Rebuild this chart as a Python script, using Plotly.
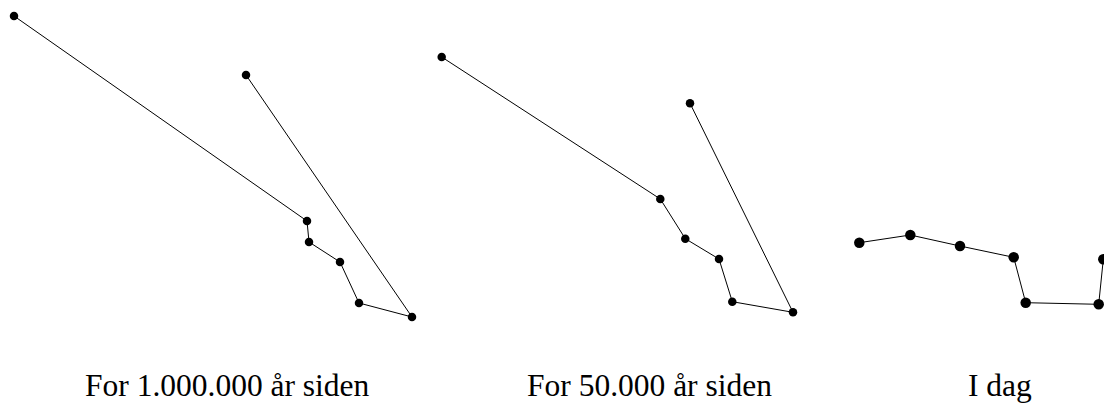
import plotly.graph_objects as go

# Star positions (chart units, y downward) for each epoch
x_1m = [14, 307, 309, 340, 359, 412, 246]
y_1m = [16, 221, 242, 262, 303, 317, 75]

x_50k = [441.7, 660.3, 685.3, 719, 732.3, 793, 690]
y_50k = [57, 199, 238.7, 259, 301.7, 312.3, 103.3]

x_now = [859.3, 910.3, 960, 1013.7, 1025.7, 1098.7, 1103.3]
y_now = [242.7, 235, 246, 257.3, 302.7, 304.3, 259.3]

labels = ["For 1.000.000 år siden", "For 50.000 år siden", "I dag"]
label_x = [227, 649, 1000]
label_y = [385, 385, 385]

fig = go.Figure()
for xs, ys, ms in [(x_1m, y_1m, 8.5), (x_50k, y_50k, 8.5), (x_now, y_now, 10.5)]:
    fig.add_trace(go.Scatter(
        x=xs, y=ys, mode="lines+markers",
        line=dict(color="black", width=1),
        marker=dict(color="black", size=ms),
        hoverinfo="skip", showlegend=False, cliponaxis=False,
    ))

for t, lx, ly in zip(labels, label_x, label_y):
    fig.add_annotation(x=lx, y=ly, text=t, showarrow=False,
                       xanchor="center", yanchor="middle",
                       font=dict(family="Liberation Serif", size=31.5, color="black"))

fig.update_xaxes(range=[0, 1104], visible=False, fixedrange=True)
fig.update_yaxes(range=[403, 0], visible=False, fixedrange=True)
fig.update_layout(
    width=1104, height=403,
    margin=dict(l=0, r=0, t=0, b=0),
    plot_bgcolor="white", paper_bgcolor="white",
)
fig.write_html("out.html", config={"displayModeBar": False},
               post_script="document.body.style.margin='0';document.body.style.overflow='hidden';")
